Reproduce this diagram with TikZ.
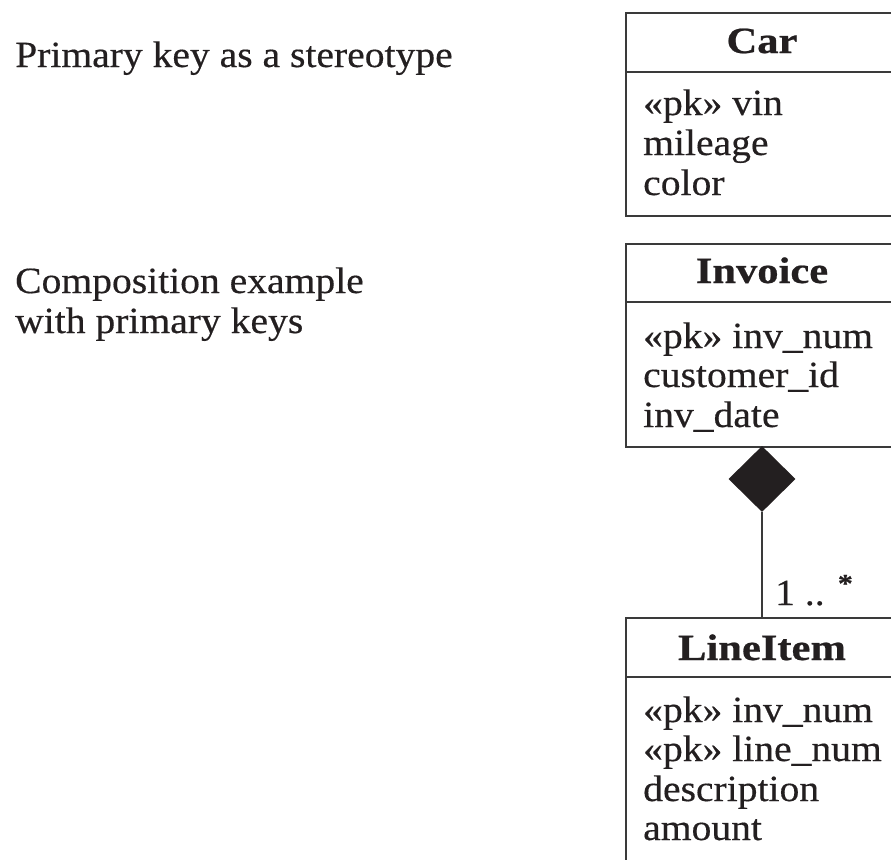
\documentclass[tikz,border=0pt]{standalone}
\usepackage{fontspec}
\setmainfont{Liberation Serif}[FakeStretch=1.07, FakeBold=0.4, BoldFeatures={FakeStretch=1.15, FakeBold=0.6}]
\usetikzlibrary{shapes.geometric}
\definecolor{ink}{HTML}{231F20}
\definecolor{rule}{HTML}{3A3A3A}
\tikzset{
  txt/.style={anchor=base west, inner sep=0pt, text=ink, font=\fontsize{37}{40}\selectfont},
  ttl/.style={anchor=base, inner sep=0pt, text=ink, font=\fontsize{37}{40}\selectfont\bfseries},
  classbox/.style={draw=rule, line width=2.4pt, anchor=north west, inner sep=0pt, minimum width=274pt},
  divider/.style={draw=rule, line width=2.4pt},
  link/.style={draw=rule, line width=2.2pt},
  comp/.style={diamond, fill=ink, draw=none, inner sep=0pt, minimum width=67pt, minimum height=66pt}
}
\begin{document}
\begin{tikzpicture}[x=1pt, y=-1pt]
\useasboundingbox (0,0) rectangle (891,859);
\clip (0,0) rectangle (891,859);

% captions on the left
\node[txt] (cap1) at (15,67) {Primary key as a stereotype};
\node[txt] (cap2) at (15,293) {Composition example};
\node[txt] (cap3) at (15,333) {with primary keys};

% Car class
\node[classbox, minimum height=203pt] (car) at (625,12) {};
\draw[divider] (625,72) -- (899,72);
\node[ttl] (carT) at (762,53) {Car};
\node[txt] (car1) at (643,115) {«pk» vin};
\node[txt] (car2) at (643,155) {mileage};
\node[txt] (car3) at (643,195) {color};

% Invoice class
\node[classbox, minimum height=203pt] (inv) at (625,243) {};
\draw[divider] (625,302) -- (899,302);
\node[ttl] (invT) at (762,283) {Invoice};
\node[txt] (inv1) at (643,348) {«pk» inv\_num};
\node[txt] (inv2) at (643,387) {customer\_id};
\node[txt] (inv3) at (643,427) {inv\_date};

% LineItem class
\node[classbox, minimum height=260pt] (li) at (625,617) {};
\draw[divider] (625,677) -- (899,677);
\node[ttl] (liT) at (762,660) {LineItem};
\node[txt] (li1) at (643,722) {«pk» inv\_num};
\node[txt] (li2) at (643,761) {«pk» line\_num};
\node[txt] (li3) at (643,801) {description};
\node[txt] (li4) at (643,840) {amount};

% composition: filled diamond at the Invoice end
\node[comp] (dia) at (762,479) {};
\draw[link] (dia.south) -- (dia.south |- li.north);
\node[txt] (mult) at (775,605) {1 .. \raisebox{0.35em}{\fontsize{26}{26}\selectfont\bfseries *}};
\end{tikzpicture}
\end{document}
